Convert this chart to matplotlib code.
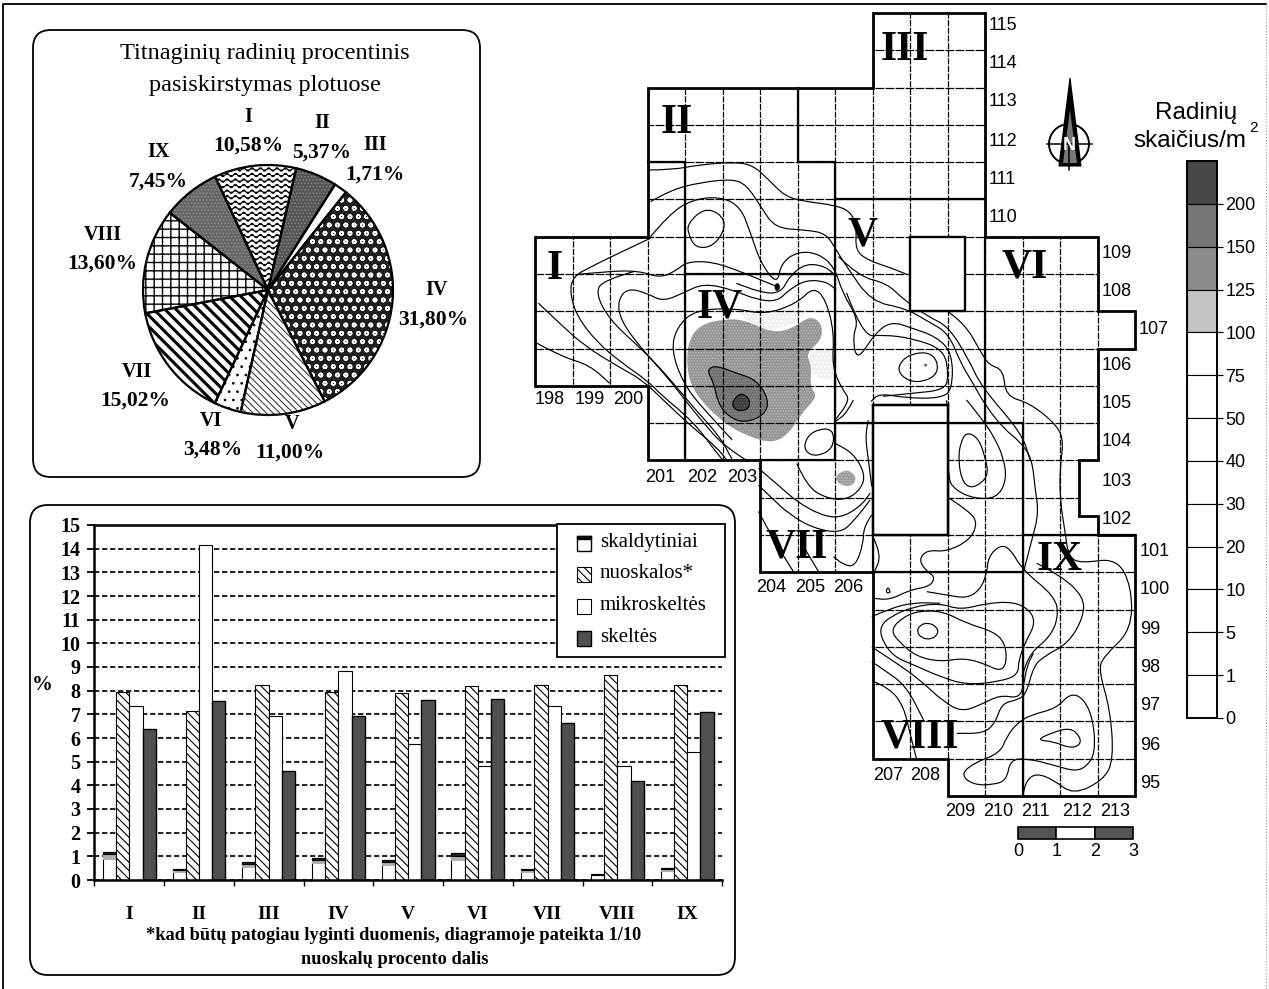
import warnings
import numpy as np
import matplotlib
matplotlib.use('Agg')
import matplotlib.pyplot as plt
import matplotlib.hatch as mhatch
from matplotlib.patches import FancyBboxPatch, PathPatch, Circle, Polygon, Rectangle
from matplotlib.path import Path

warnings.filterwarnings('ignore')

SERIF = 'Liberation Serif'
SANS = 'Liberation Sans'

# pie
PIE_NAMES = ['I', 'II', 'III', 'IV', 'V', 'VI', 'VII', 'VIII', 'IX']
PIE_VALUES = [10.58, 5.37, 1.71, 31.80, 11.00, 3.48, 15.02, 13.60, 7.45]
PIE_TEXT = ['10,58%', '5,37%', '1,71%', '31,80%', '11,00%', '3,48%', '15,02%', '13,60%', '7,45%']

# bars
AREAS = ['I', 'II', 'III', 'IV', 'V', 'VI', 'VII', 'VIII', 'IX']
SKALDYTINIAI = [1.2, 0.45, 0.75, 0.95, 0.85, 1.15, 0.45, 0.25, 0.5]
NUOSKALOS = [7.95, 7.15, 8.25, 7.95, 7.9, 8.2, 8.25, 8.65, 8.25]
MIKROSKELTES = [7.35, 14.15, 6.95, 8.85, 5.75, 4.8, 7.35, 4.8, 5.4]
SKELTES = [6.4, 7.55, 4.6, 6.95, 7.6, 7.65, 6.65, 4.2, 7.1]
LEGEND_NAMES = ['skaldytiniai', 'nuoskalos*', 'mikroskeltės', 'skeltės']

# colour scale of the map
SCALE_LABELS = ['200', '150', '125', '100', '75', '50', '40', '30', '20', '10', '5', '1', '0']
SCALE_COLORS = ['#484848', '#767676', '#8c8c8c', '#c4c4c4'] + ['white'] * 9

# map outline and heavy lines, in square numbers
OUTLINE = [(198, 110), (201, 110), (201, 114), (207, 114), (207, 116), (210, 116), (210, 110),
           (213, 110), (213, 108), (214, 108), (214, 107), (213, 107), (213, 104), (212.5, 104),
           (212.5, 102.5), (213, 102.5), (213, 102), (214, 102), (214, 95), (209, 95), (209, 96),
           (207, 96), (207, 101), (204, 101), (204, 104), (201, 104), (201, 106), (198, 106)]
HEAVY_LINES = [[(205, 114), (205, 112), (206, 112), (206, 104)],
               [(206, 111), (210, 111)],
               [(201, 112), (202, 112), (202, 104)],
               [(202, 109), (206, 109)],
               [(210, 110), (210, 105)],
               [(206, 105), (211, 105)],
               [(204, 104), (206, 104)],
               [(207, 105.5), (209, 105.5)],
               [(207, 105.5), (207, 101)],
               [(209, 105.5), (209, 102)],
               [(207, 102), (209, 102)],
               [(207, 101), (211, 101)],
               [(211, 105), (211, 95)],
               [(211, 102), (214, 102)]]
BLANK_TOP = [(208, 110), (209.47, 110), (209.47, 108), (208, 108)]
BLANK_MID = [(207, 105.5), (209, 105.5), (209, 102), (207, 102)]

# shaded areas
ZONE_100_A = [(205.22, 106.88), (205.98, 107.05), (205.98, 106.07), (205.43, 106.25)]
ZONE_100_B = [(203.37, 108.05), (204.13, 107.9), (205.0, 108.2), (205.3, 107.9), (204.35, 107.41),
              (203.58, 107.77)]
ZONE_125 = [(202.06, 107.15), (202.39, 107.64), (203.04, 107.79), (203.58, 107.77), (204.35, 107.41),
            (204.89, 107.55), (205.33, 107.88), (205.65, 107.68), (205.65, 107.23), (205.22, 106.88),
            (205.38, 106.52), (205.33, 105.98), (205.54, 105.72), (205.11, 105.27), (204.78, 104.73),
            (204.35, 104.46), (203.69, 104.64), (203.04, 105.0), (202.39, 105.63), (202.06, 106.25)]
ZONE_150 = [(202.58, 106.43), (202.82, 106.55), (203.37, 106.34), (203.91, 106.16), (204.24, 105.63),
            (204.13, 105.22), (203.58, 105.0), (203.15, 105.18), (202.88, 105.54), (202.77, 106.07)]
ZONE_200 = [(203.26, 105.58), (203.48, 105.82), (203.72, 105.67), (203.72, 105.4), (203.48, 105.31),
            (203.29, 105.4)]
SPOT_206 = [(206, 103.52), (206.14, 103.7), (206.4, 103.74), (206.58, 103.52), (206.45, 103.3),
            (206.14, 103.34)]
SPOT_DOT = [(204.4, 108.74), (204.52, 108.74), (204.52, 108.56), (204.4, 108.56)]
SPOT_RING = [(208.33, 106.55), (208.45, 106.62), (208.47, 106.5)]

# closed isolines
RINGS = [
    [(202.08, 110.36), (202.5, 110.76), (202.93, 110.63), (203.1, 110.27), (202.77, 109.74),
     (202.28, 109.69), (202.08, 110.09)],
    [(207.67, 106.52), (207.94, 106.83), (208.48, 106.92), (208.75, 106.65), (208.7, 106.25),
     (208.16, 106.07), (207.77, 106.25)],
    [(209.34, 104.46), (209.51, 104.77), (209.83, 104.59), (210.0, 104.1), (210.09, 103.65),
     (209.91, 103.39), (209.6, 103.25), (209.38, 103.47), (209.29, 104.01)],
    [(208.18, 99.41), (208.27, 99.59), (208.49, 99.65), (208.71, 99.54), (208.76, 99.36),
     (208.58, 99.2), (208.31, 99.23)],
    [(207.47, 99.45), (207.83, 99.81), (208.27, 99.97), (208.89, 99.95), (209.51, 99.63),
     (210.23, 99.41), (210.54, 99.1), (210.58, 98.56), (210.4, 98.34), (209.96, 98.56),
     (209.43, 98.7), (208.8, 98.6), (208.18, 98.74), (207.74, 99.1)],
    [(207.2, 99.54), (207.47, 99.81), (208.09, 100.08), (208.8, 100.17), (209.34, 99.99),
     (210.05, 100.17), (210.76, 100.21), (211.2, 99.99), (211.34, 99.63), (211.11, 99.19),
     (210.89, 98.65), (210.89, 98.25), (210.4, 98.07), (209.51, 97.98), (208.8, 98.2),
     (208.09, 98.52), (207.56, 98.74), (207.25, 99.19)],
    [(209.35, 95.57), (209.69, 95.88), (210.4, 96.15), (210.58, 96.59), (210.85, 96.95),
     (211.2, 97.17), (211.91, 97.35), (212.27, 97.76), (212.63, 97.62), (212.89, 97.04),
     (212.94, 96.15), (212.71, 95.79), (212.4, 95.66), (211.83, 95.83), (211.11, 96.01),
     (210.67, 95.97), (210.58, 95.43), (210.23, 95.3), (209.69, 95.3)],
    [(211.38, 96.5), (211.74, 96.68), (212.27, 96.84), (212.54, 96.59), (212.54, 96.37),
     (212.27, 96.28), (211.83, 96.46)],
    [(205.96, 104.86), (205.47, 104.82), (205.2, 104.55), (205.2, 104.23), (205.51, 104.1),
     (205.96, 104.32)],
    [(207.35, 100.45), (207.41, 100.62), (207.49, 100.45)],
]

# open isolines
ISO_NORTH = [(201.03, 111.79), (201.63, 111.79), (202.39, 111.93), (203.26, 112.0), (203.8, 111.93),
             (204.24, 111.52), (204.67, 111.08), (205.22, 110.94), (205.98, 110.85), (206.41, 110.68),
             (206.58, 110.27), (206.54, 109.65), (206.85, 109.38), (207.5, 109.16), (207.94, 108.98)]
ISO_EAST = [(209.0, 108.0), (209.46, 107.68), (209.9, 106.88), (210.11, 106.56), (210.49, 106.43),
            (210.55, 105.72), (211.2, 105.54), (211.96, 104.91), (212.09, 104.46), (212.0, 103.83),
            (212.0, 102.94), (212.14, 102.05), (212.23, 101.42), (212.54, 101.24), (213.51, 101.38),
            (213.91, 100.62), (213.91, 99.45), (213.16, 98.74), (213.03, 98.38), (213.34, 97.31),
            (213.43, 95.97), (213.16, 95.43), (212.36, 95.03), (211.83, 95.43), (211.38, 95.61),
            (211.11, 95.43), (211.0, 94.99)]
ISO_SECOND = [(201.08, 110.94), (201.63, 111.26), (202.39, 111.45), (203.26, 111.55), (203.64, 111.39),
              (204.02, 110.81), (204.4, 110.23), (205.22, 110.18), (205.76, 110.09), (206.03, 109.65),
              (206.31, 109.2), (206.96, 108.26), (207.88, 108.08), (208.48, 107.73), (209.03, 107.41),
              (209.35, 106.61), (209.68, 106.07), (210.0, 105.49), (210.49, 104.86), (210.94, 104.5),
              (211.25, 104.06), (211.34, 103.21), (211.43, 102.58), (211.25, 101.87), (211.03, 101.02)]
ISO_THIRD = [(206.09, 109.47), (206.63, 108.93), (207.39, 108.75), (207.83, 108.31), (208.48, 107.86),
             (209.03, 107.59), (209.57, 106.7), (209.9, 105.98), (210.98, 104.73), (211.2, 104.02)]
ISO_W1 = [(201.08, 109.96), (200.32, 109.6), (199.5, 109.2), (199.01, 108.93), (198.93, 108.49),
          (199.12, 107.86), (199.67, 107.15), (200.32, 106.61), (200.97, 106.16), (201.41, 105.72),
          (201.95, 105.27), (202.39, 104.82), (202.71, 104.38), (203.04, 103.97)]
ISO_W2 = [(198.09, 108.22), (198.69, 107.64), (199.34, 107.06), (200.21, 106.52), (200.86, 106.16),
          (201.41, 105.63), (202.17, 104.91), (202.82, 104.38), (203.15, 103.97)]
ISO_W3 = [(198.04, 107.15), (198.69, 106.79), (199.45, 106.56), (199.99, 106.07)]
ISO_W4 = [(199.07, 108.98), (199.89, 109.07), (200.76, 109.09), (201.35, 108.89), (201.79, 109.11),
          (202.06, 109.33), (202.71, 109.33), (203.37, 109.11), (204.02, 108.84), (204.46, 108.66)]
ISO_W5 = [(200.65, 109.07), (199.83, 108.84), (199.61, 108.49), (199.99, 107.77), (200.76, 107.06),
          (201.3, 106.52), (201.84, 105.89), (202.28, 105.36), (202.93, 104.64), (203.26, 104.02)]
ISO_W6 = [(203.69, 103.97), (203.04, 104.38), (202.5, 105.0), (202.06, 105.54), (201.52, 106.25),
          (200.86, 106.97), (200.27, 107.77), (200.21, 108.31), (200.48, 108.62), (200.97, 108.49),
          (201.41, 108.26), (201.95, 108.49), (202.5, 108.75), (203.26, 108.58), (203.91, 108.31),
          (204.46, 108.26), (204.78, 108.58), (205.22, 108.84), (205.76, 108.8), (206.03, 108.58)]
ISO_W7 = [(203.26, 104.55), (202.5, 105.36), (201.95, 106.07), (201.63, 106.97), (201.79, 107.59),
          (202.28, 108.04), (203.37, 108.08), (204.13, 107.91), (205.0, 108.22), (205.43, 108.66),
          (205.76, 108.31), (205.98, 107.41), (205.92, 106.52), (206.2, 105.89), (206.41, 105.63),
          (205.98, 105.05)]
ISO_LOOP = [(201.08, 110.0), (201.57, 110.59), (202.17, 110.99), (202.93, 111.08), (203.48, 110.81),
            (203.75, 110.09), (204.02, 109.29), (204.46, 108.71), (204.56, 109.29), (205.0, 109.6),
            (205.54, 109.56), (205.98, 109.2), (206.2, 108.49), (206.63, 107.77), (206.47, 107.32),
            (206.58, 106.65), (207.07, 107.41), (207.5, 107.73), (208.05, 107.55), (208.7, 107.32),
            (209.13, 106.88), (209.13, 105.89), (208.81, 105.67), (207.94, 105.67), (207.18, 105.8),
            (206.96, 105.58)]
ISO_LOOP2 = [(203.37, 108.75), (204.02, 108.49), (204.56, 108.49), (204.78, 108.93), (205.22, 109.29),
             (205.76, 109.2), (206.03, 108.93)]
ISO_MID = [(206.31, 108.49), (206.74, 107.32), (207.28, 107.37), (208.05, 107.28), (208.92, 106.97),
           (209.03, 106.25), (208.92, 105.89), (208.05, 105.8), (207.28, 105.72)]
ISO_A = [(208.98, 105.62), (208.98, 103.56), (209.2, 103.21), (209.69, 102.98), (210.31, 102.98),
         (210.58, 103.47), (210.49, 104.1), (210.23, 104.64), (210.0, 105.0), (209.51, 105.62)]
ISO_B = [(208.98, 103.03), (209.6, 102.63), (209.8, 102.31), (209.6, 101.87), (208.98, 101.55),
         (208.45, 101.6), (208.23, 101.33), (208.45, 101.02), (208.67, 100.88), (208.54, 100.62),
         (208.0, 100.53), (207.47, 100.26), (207.03, 100.3)]
ISO_C = [(208.45, 100.48), (208.98, 100.39), (209.51, 100.3), (209.87, 100.53), (210.05, 100.97),
         (210.09, 101.42), (210.4, 101.73), (210.67, 101.64), (211.0, 101.06), (211.87, 100.35),
         (211.96, 99.81), (211.74, 99.27), (211.2, 98.83), (210.98, 98.2)]
ISO_D = [(211.38, 101.24), (212.0, 100.93), (212.63, 100.35), (212.63, 99.81), (212.23, 99.1),
         (211.56, 98.74), (211.29, 98.47), (211.11, 97.76), (210.89, 97.58), (210.45, 97.49),
         (210.27, 96.95), (209.96, 96.68), (209.25, 96.68)]
ISO_E = [(206.98, 99.0), (207.65, 98.56), (208.27, 98.11), (208.89, 97.53), (209.38, 97.26),
         (209.87, 97.44), (210.4, 97.71), (210.89, 97.62), (211.03, 97.93), (211.11, 98.47),
         (211.29, 98.83)]
ISO_F = [(206.98, 98.6), (207.38, 98.34), (207.91, 97.93), (208.36, 97.04)]
ISO_G = [(207.03, 98.07), (207.47, 97.89), (207.83, 97.4), (208.0, 96.68), (208.18, 95.97)]
ISO_H = [(206.98, 99.81), (207.47, 100.03), (208.09, 100.19), (208.8, 100.17)]
ISO_VII_A = [(203.96, 103.79), (204.27, 103.52), (204.63, 103.21), (204.98, 102.9), (205.6, 102.54),
             (206.14, 102.45), (206.67, 102.76), (206.94, 103.12)]
ISO_VII_B = [(203.96, 103.34), (204.27, 103.03), (204.8, 102.54), (205.43, 102.18), (206.14, 102.05),
             (206.49, 102.36), (206.94, 102.94)]
ISO_VII_C = [(203.96, 102.63), (204.36, 101.87), (204.89, 101.02)]
ISO_VII_D = [(205.16, 101.69), (205.56, 101.02)]
ISO_VII_E = [(204.98, 103.92), (205.25, 103.3), (205.78, 102.98), (206.31, 102.94), (206.71, 103.25),
             (206.8, 103.65), (206.49, 104.19), (206.0, 104.46)]
ISO_VII_F = [(206.49, 105.62), (206.31, 105.26), (206.0, 105.04)]
ISO_VII_G = [(206.89, 105.08), (206.8, 104.73), (206.89, 104.01), (206.98, 103.3)]
ISO_VII_H = [(206.98, 102.54), (206.76, 102.22), (206.76, 101.78), (206.54, 101.15), (206.23, 101.2),
             (205.96, 101.42)]
ISO_VII_I = [(207.03, 101.91), (207.25, 101.46), (207.03, 100.97)]
OPEN_ISOLINES = [ISO_NORTH, ISO_EAST, ISO_SECOND, ISO_THIRD, ISO_W1, ISO_W2, ISO_W3, ISO_W4, ISO_W5,
                 ISO_W6, ISO_W7, ISO_LOOP, ISO_LOOP2, ISO_MID, ISO_A, ISO_B, ISO_C, ISO_D, ISO_E,
                 ISO_F, ISO_G, ISO_H, ISO_VII_A, ISO_VII_B, ISO_VII_C, ISO_VII_D, ISO_VII_E,
                 ISO_VII_F, ISO_VII_G, ISO_VII_H, ISO_VII_I]

# labels round the map
ROW_TOP = ['115', '114', '113', '112', '111', '110']
ROW_MID = ['109', '108', '106', '105', '104', '103', '102']
ROW_LOW = ['101', '100', '99', '98', '97', '96', '95']
COLUMN_LABELS = [('198', 550, 400), ('199', 590, 400), ('200', 628, 400),
                 ('201', 660, 477), ('202', 702, 477), ('203', 742, 477),
                 ('204', 771, 588), ('205', 810, 588), ('206', 848, 588),
                 ('207', 888, 775), ('208', 925, 775),
                 ('209', 960, 812), ('210', 998, 812), ('211', 1035, 812), ('212', 1077, 812), ('213', 1115, 812)]
AREA_LABELS = [('I', 555, 269), ('II', 677, 123), ('III', 905, 50), ('IV', 720, 308), ('V', 863, 235),
               ('VI', 1025, 267), ('VII', 797, 547), ('VIII', 920, 737), ('IX', 1060, 560)]


class WaveHatch(mhatch.HatchPatternBase):
    # matplotlib has no wavy hatch, wedge I needs one
    def __init__(self, hatch, density):
        self.rows = hatch.count('w') * density
        self.periods = self.rows * 2 // 3
        self.num_vertices = self.rows * (self.periods * 6 + 1)

    def set_vertices_and_codes(self, vertices, codes):
        pts = self.periods * 6 + 1
        xs = np.linspace(0, 1, pts)
        for r in range(self.rows):
            ys = (r + 0.5) / self.rows + 0.018 * np.sin(xs * self.periods * 2 * np.pi)
            vertices[r * pts:(r + 1) * pts, 0] = xs
            vertices[r * pts:(r + 1) * pts, 1] = ys
            codes[r * pts:(r + 1) * pts] = Path.LINETO
            codes[r * pts] = Path.MOVETO


mhatch._hatch_types.append(WaveHatch)


def smooth_path(pts, closed=False):
    pts = [np.array(p, float) for p in pts]
    verts, codes = [], []
    if closed:
        verts.append((pts[-1] + pts[0]) / 2)
        codes.append(Path.MOVETO)
        for i, p in enumerate(pts):
            nxt = pts[(i + 1) % len(pts)]
            verts += [p, (p + nxt) / 2]
            codes += [Path.CURVE3, Path.CURVE3]
    else:
        verts.append(pts[0])
        codes.append(Path.MOVETO)
        for i in range(1, len(pts) - 1):
            verts += [pts[i], (pts[i] + pts[i + 1]) / 2]
            codes += [Path.CURVE3, Path.CURVE3]
        verts.append(pts[-1])
        codes.append(Path.LINETO)
    return Path(np.array(verts), codes)


W, H = 1269, 989
plt.rcParams['hatch.linewidth'] = 0.7
fig = plt.figure(figsize=(W / 100, H / 100), dpi=100, facecolor='white')


def px_axes(x0, y0, x1, y1, **kw):
    return fig.add_axes([x0 / W, 1 - y1 / H, (x1 - x0) / W, (y1 - y0) / H], **kw)


page = fig.add_axes([0, 0, 1, 1], zorder=0)
page.set_xlim(0, W)
page.set_ylim(H, 0)
page.axis('off')

page.plot([3, 3, 1266], [H, 4, 4], color='black', lw=1.3)
page.plot([1266, 1266], [4, H], color='#999999', lw=0.8, ls=':')

for x0, y0, x1, y1 in [(33, 30, 480, 477), (30, 505, 735, 975)]:
    page.add_patch(FancyBboxPatch((x0, y0), x1 - x0, y1 - y0, boxstyle='round,pad=0,rounding_size=18',
                                  facecolor='white', edgecolor='black', lw=1.3))

# pie panel
page.text(265, 53, 'Titnaginių radinių procentinis', family=SERIF, fontsize=17.5, ha='center', va='center')
page.text(265, 85, 'pasiskirstymas plotuose', family=SERIF, fontsize=17.5, ha='center', va='center')

ax_pie = px_axes(143, 165, 393, 415, zorder=1)
pie_styles = [('white', 'black', 'www', 0.8), ('#555555', '#858585', '.....', 0.7), ('white', 'white', None, 0.7),
              ('#1e1e1e', 'white', 'oo', 1.1), ('white', '#222222', '\\' * 5, 0.7), ('white', 'black', '..', 0.7),
              ('white', 'black', '\\' * 3, 2.2), ('white', 'black', '++', 1.0), ('#666666', '#8f8f8f', '.....', 0.7)]
wedges, _ = ax_pie.pie(PIE_VALUES, startangle=115, counterclock=False, radius=1)
for w, (fc, hc, ht, hlw) in zip(wedges, pie_styles):
    w.set_facecolor(fc)
    w.set_edgecolor(hc)
    w.set_linewidth(0)
    w.set_hatch(ht)
    if hasattr(w, 'set_hatch_linewidth'):
        w.set_hatch_linewidth(hlw)
    else:
        w._hatch_linewidth = hlw
edges, _ = ax_pie.pie(PIE_VALUES, startangle=115, counterclock=False, radius=1,
                      wedgeprops=dict(facecolor='none', edgecolor='black', lw=1.6))
ax_pie.set_xlim(-1, 1)
ax_pie.set_ylim(-1, 1)
for e in wedges + edges:
    e.set_clip_on(False)

pie_label_pos = [(248, 117, 146), (322, 123, 153), (375, 145, 175), (437, 290, 320), (292, 424, 453),
                 (211, 421, 450), (137, 372, 401), (103, 235, 264), (159, 152, 182)]
pie_text_x = [248, 322, 375, 433, 290, 213, 135, 102, 158]
for name, txt, (x, y1, y2), x2 in zip(PIE_NAMES, PIE_TEXT, pie_label_pos, pie_text_x):
    page.text(x, y1, name, family=SERIF, weight='bold', fontsize=14.5, ha='center', va='center')
    page.text(x2, y2, txt, family=SERIF, weight='bold', fontsize=15.5, ha='center', va='center')

# bar panel
ax_bar = px_axes(94.4, 525, 722, 880, zorder=1)
ax_bar.patch.set_visible(False)
ax_bar.set_xlim(0, 9)
ax_bar.set_ylim(0, 15)
pos = np.arange(9)
bw = 0.19
ax_bar.yaxis.grid(True, color='black', ls=(0, (3.2, 1.6)), lw=1.2)
ax_bar.set_axisbelow(True)
plt.rcParams['hatch.linewidth'] = 0.8
ax_bar.bar(pos + 0.12, SKALDYTINIAI, bw, align='edge', facecolor='white', edgecolor='black', lw=0.8)
ax_bar.bar(pos + 0.12, np.array(SKALDYTINIAI) * 0.3, bw, bottom=np.array(SKALDYTINIAI) * 0.7, align='edge',
           facecolor='#b0b0b0', edgecolor='none')
ax_bar.bar(pos + 0.12, np.array(SKALDYTINIAI) * 0.1, bw, bottom=np.array(SKALDYTINIAI) * 0.9, align='edge',
           facecolor='#222222', edgecolor='black', lw=0.8)
ax_bar.bar(pos + 0.31, NUOSKALOS, bw, align='edge', facecolor='white', edgecolor='black', lw=0.8, hatch='\\\\\\\\')
ax_bar.bar(pos + 0.50, MIKROSKELTES, bw, align='edge', facecolor='white', edgecolor='black', lw=0.8)
ax_bar.bar(pos + 0.69, SKELTES, bw, align='edge', facecolor='#505050', edgecolor='black', lw=1.0)

ax_bar.set_yticks(range(16))
ax_bar.set_yticklabels([str(i) for i in range(16)], family=SERIF, weight='bold', fontsize=14.5)
ax_bar.tick_params(axis='y', length=5, width=1.3, pad=5)
ax_bar.set_xticks(range(10))
ax_bar.set_xticklabels([])
ax_bar.set_xticks(pos + 0.5, minor=True)
ax_bar.set_xticklabels(AREAS, minor=True, family=SERIF, weight='bold', fontsize=14)
ax_bar.tick_params(axis='x', which='minor', length=0, pad=19)
ax_bar.tick_params(axis='x', which='major', length=4, width=1, pad=2)
ax_bar.spines['right'].set_visible(False)
for side in ['left', 'top', 'bottom']:
    ax_bar.spines[side].set_linewidth(1.8)

page.text(42, 685, '%', family=SERIF, weight='bold', fontsize=15, ha='center', va='center')
page.text(394, 935, '*kad būtų patogiau lyginti duomenis, diagramoje pateikta 1/10', family=SERIF, weight='bold',
          fontsize=13.2, ha='center', va='center')
page.text(395, 959, 'nuoskalų procento dalis', family=SERIF, weight='bold', fontsize=13.2, ha='center', va='center')

# map, in square numbers: one unit is one metre
ax_map = px_axes(535, 13, 1135, 796, zorder=2)
ax_map.patch.set_visible(False)
ax_map.set_xlim(198, 214)
ax_map.set_ylim(95, 116)
ax_map.axis('off')

clip = Polygon(OUTLINE, closed=True, facecolor='white', edgecolor='none', transform=ax_map.transData)
ax_map.add_patch(clip)

for pts in [ZONE_100_A, ZONE_100_B]:
    ax_map.add_patch(PathPatch(smooth_path(pts, closed=True), facecolor='#f0f0f0', edgecolor='white', hatch='....', lw=0,
                               zorder=2))
for pts, fc, hc in [(ZONE_125, '#929292', '#b8b8b8'), (ZONE_150, '#6e6e6e', '#8f8f8f'),
                    (ZONE_200, '#3c3c3c', '#5a5a5a'), (SPOT_206, '#9a9a9a', '#bdbdbd'),
                    (SPOT_RING, '#777777', '#777777')]:
    ax_map.add_patch(PathPatch(smooth_path(pts, closed=True), facecolor=fc, edgecolor=hc, hatch='......', lw=0,
                               zorder=2))
ax_map.add_patch(PathPatch(smooth_path(SPOT_DOT, closed=True), facecolor='black', edgecolor='black', lw=0.5, zorder=4))

for x in range(199, 214):
    line, = ax_map.plot([x, x], [95, 116], color='black', lw=0.9, ls=(0, (5, 1.1)), zorder=3)
    line.set_clip_path(clip)
for y in range(96, 116):
    line, = ax_map.plot([198, 214], [y, y], color='black', lw=0.9, ls=(0, (7, 1)), zorder=3)
    line.set_clip_path(clip)

for ring in RINGS:
    ax_map.add_patch(PathPatch(smooth_path(ring, closed=True), facecolor='none', edgecolor='black', lw=0.85, zorder=4))
for iso in OPEN_ISOLINES:
    ax_map.add_patch(PathPatch(smooth_path(iso), facecolor='none', edgecolor='black', lw=0.85, zorder=4))
ax_map.add_patch(PathPatch(smooth_path(ZONE_150, closed=True), facecolor='none', edgecolor='black', lw=0.85, zorder=4))
ax_map.add_patch(PathPatch(smooth_path(ZONE_200, closed=True), facecolor='none', edgecolor='black', lw=0.85, zorder=4))

for rect in [BLANK_TOP, BLANK_MID]:
    ax_map.add_patch(Polygon(rect, closed=True, facecolor='white', edgecolor='black', lw=1.7, zorder=5))
for seg in HEAVY_LINES:
    xs, ys = zip(*seg)
    ax_map.plot(xs, ys, color='black', lw=1.6, solid_capstyle='projecting', zorder=6, clip_on=False)
ax_map.add_patch(Polygon(OUTLINE, closed=True, facecolor='none', edgecolor='black', lw=2.0, zorder=7, clip_on=False))

overlay = fig.add_axes([0, 0, 1, 1], zorder=3)
overlay.set_xlim(0, W)
overlay.set_ylim(H, 0)
overlay.axis('off')
overlay.patch.set_visible(False)

# legend of the bars, its box is wider than a matplotlib legend would make it
overlay.add_patch(Rectangle((557, 524), 168, 133, facecolor='white', edgecolor='black', lw=1.3))
legend_y = [542, 573, 605, 637]
legend_styles = [('white', None, 1.0), ('white', '\\\\\\\\', 0.8), ('white', None, 0.8), ('#505050', None, 1.0)]
for name, y, (fc, ht, lw) in zip(LEGEND_NAMES, legend_y, legend_styles):
    overlay.add_patch(Rectangle((577, y - 6), 14, 15, facecolor=fc, edgecolor='black', lw=lw, hatch=ht))
    overlay.text(600, y, name, family=SERIF, fontsize=15, ha='left', va='center')
overlay.add_patch(Rectangle((577, legend_y[0] - 6), 14, 3, facecolor='black', edgecolor='black', lw=1.0))

for name, x, y in AREA_LABELS:
    overlay.text(x, y, name, family=SERIF, weight='bold', fontsize=30, ha='center', va='center')
for name, y in zip(ROW_TOP, [25, 63, 102, 141, 179, 218]):
    overlay.text(989, y, name, family=SANS, fontsize=13, ha='left', va='center')
for name, y in zip(ROW_MID, [254, 292, 365, 404, 442, 481, 519]):
    overlay.text(1102, y, name, family=SANS, fontsize=13, ha='left', va='center')
overlay.text(1139, 330, '107', family=SANS, fontsize=13, ha='left', va='center')
for name, y in zip(ROW_LOW, [551, 590, 630, 668, 706, 745, 783]):
    overlay.text(1140, y, name, family=SANS, fontsize=13, ha='left', va='center')
for name, x, y in COLUMN_LABELS:
    overlay.text(x, y, name, family=SANS, fontsize=13, ha='center', va='center')

# scale bar, three squares long
for k, fc in enumerate(['#555555', 'white', '#555555']):
    overlay.add_patch(Rectangle((1018 + k * 38.4, 827), 38.4, 12, facecolor=fc, edgecolor='black', lw=1.2))
for k, name in enumerate(['0', '1', '2', '3']):
    overlay.text(1018 + k * 38.4, 851, name, family=SANS, fontsize=13, ha='center', va='center')

# north arrow
overlay.add_patch(Circle((1069, 144), 20, facecolor='white', edgecolor='black', lw=1.4))
overlay.plot([1047, 1092], [144, 144], color='black', lw=1.1)
overlay.plot([1069, 1069], [144, 170], color='black', lw=1.1)
overlay.add_patch(Polygon([(1070, 78), (1059, 166), (1081, 166)], closed=True, facecolor='black', edgecolor='black', lw=0.8))
overlay.add_patch(Polygon([(1070, 110), (1063, 163), (1077, 163)], closed=True, facecolor='#777777', edgecolor='none'))
overlay.text(1069, 145, 'N', family=SANS, weight='bold', fontsize=13, color='white', ha='center', va='center')

# colour scale
overlay.text(1196, 113, 'Radinių', family=SANS, fontsize=17.5, ha='center', va='center')
overlay.text(1190, 141, 'skaičius/m', family=SANS, fontsize=17.5, ha='center', va='center')
overlay.text(1254, 128, '2', family=SANS, fontsize=11, ha='center', va='center')

ax_scale = px_axes(1187, 161, 1217, 718, zorder=3)
ax_scale.set_xlim(0, 1)
ax_scale.set_ylim(len(SCALE_LABELS), 0)
ax_scale.barh(np.arange(len(SCALE_LABELS)) + 0.5, 1, 1, color=SCALE_COLORS, edgecolor='black', lw=0.8)
ax_scale.set_xticks([])
ax_scale.set_yticks(np.arange(len(SCALE_LABELS)) + 1)
ax_scale.set_yticklabels(SCALE_LABELS, family=SANS, fontsize=13)
ax_scale.yaxis.tick_right()
ax_scale.tick_params(axis='y', length=4, width=0.9, pad=2)
for s in ax_scale.spines.values():
    s.set_linewidth(1.4)

fig.savefig('out.png', dpi=100)
